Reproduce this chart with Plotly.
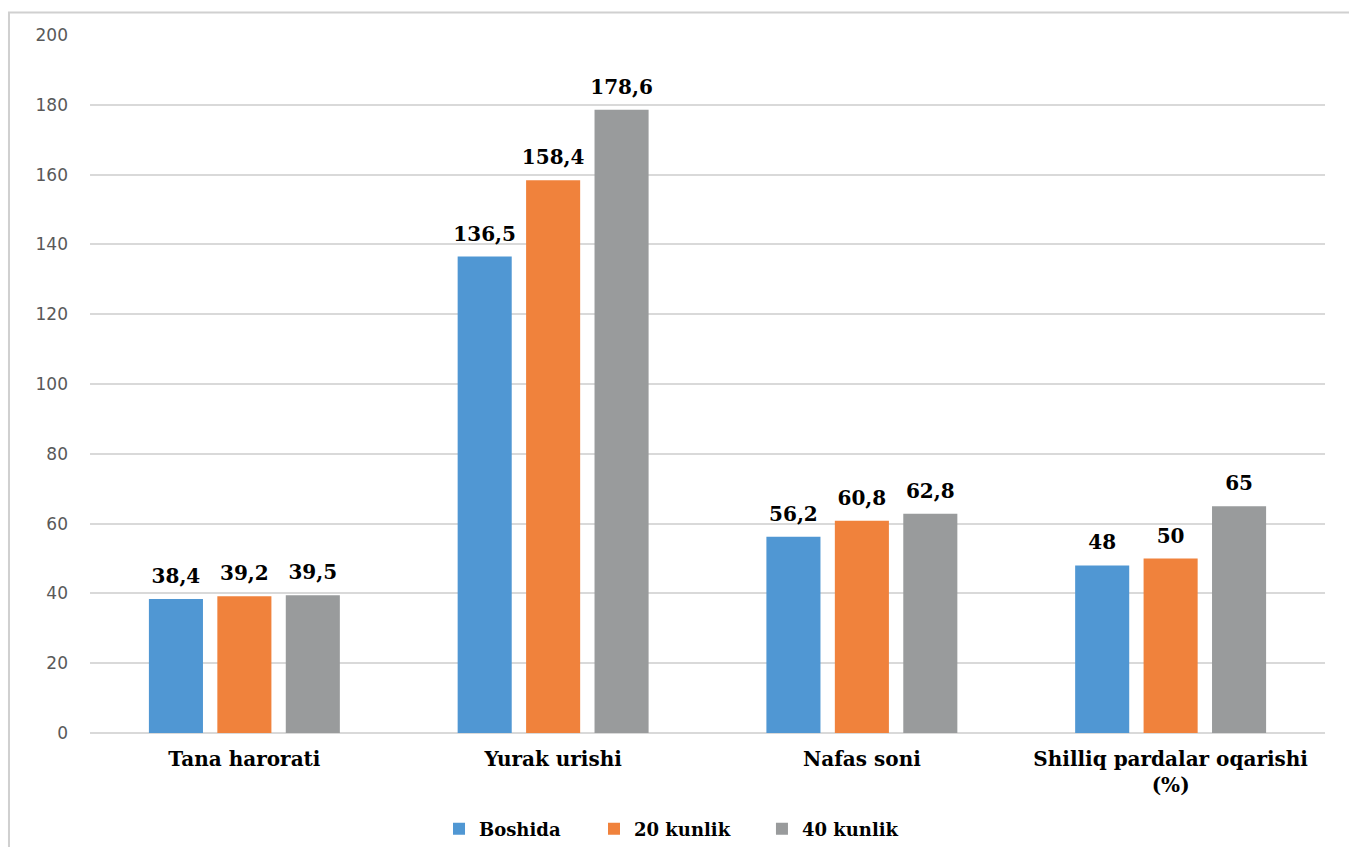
import plotly.graph_objects as go

# Indicator names (x categories) and the three measurement stages
categories = ["Tana harorati", "Yurak urishi", "Nafas soni",
              "Shilliq pardalar oqarishi<br>(%)"]
series_names = ["Boshida", "20 kunlik", "40 kunlik"]

boshida = [38.4, 136.5, 56.2, 48]
kunlik_20 = [39.2, 158.4, 60.8, 50]
kunlik_40 = [39.5, 178.6, 62.8, 65]

y_ticks = [0, 20, 40, 60, 80, 100, 120, 140, 160, 180, 200]

colors = ["#5097D3", "#F0823C", "#999B9C"]
legend_x = [0.2826, 0.4081, 0.5441]

label_font = dict(family="DejaVu Serif", size=20, color="#000000", weight="bold")
legend_font = dict(family="DejaVu Serif", size=18, color="#000000", weight="bold")


def label(v):
    return f"{v:g}".replace(".", ",")


fig = go.Figure()
all_series = [boshida, kunlik_20, kunlik_40]
legend_ids = ["legend", "legend2", "legend3"]

for name, vals, col, lg in zip(series_names, all_series, colors, legend_ids):
    fig.add_trace(go.Bar(
        x=categories, y=vals, name=name,
        marker=dict(color=col, line=dict(width=0)),
        legend=lg, hoverinfo="x+y+name",
    ))

# value labels sit above each bar, grouped the same way as the bars
for name, vals in zip(series_names, all_series):
    fig.add_trace(go.Scatter(
        x=categories, y=vals, mode="markers+text",
        text=[label(v) for v in vals], textposition="top center",
        textfont=label_font,
        marker=dict(size=16, opacity=0),
        showlegend=False, hoverinfo="skip", cliponaxis=False,
    ))

legend_common = dict(orientation="h", yanchor="middle", y=-0.1375,
                     xanchor="left", font=legend_font,
                     bgcolor="rgba(0,0,0,0)", borderwidth=0)

fig.update_layout(
    width=1349, height=847, autosize=False,
    margin=dict(l=90, r=24, t=35, b=114, autoexpand=False),
    paper_bgcolor="white", plot_bgcolor="white",
    barmode="group", bargap=0.335, bargroupgap=0.21,
    scattermode="group", scattergap=0.335,
    legend=dict(x=legend_x[0], **legend_common),
    legend2=dict(x=legend_x[1], **legend_common),
    legend3=dict(x=legend_x[2], **legend_common),
    xaxis=dict(
        tickfont=label_font, showgrid=False, showline=False,
        ticks="", ticklabelstandoff=12, automargin=False,
    ),
    yaxis=dict(
        range=[0, 200], tickvals=y_ticks, ticktext=[str(t) for t in y_ticks],
        showgrid=True, gridcolor="#D9D9D9", gridwidth=1.5,
        zeroline=True, zerolinecolor="#D9D9D9", zerolinewidth=2,
        showline=False, ticks="", automargin=False,
        tickfont=dict(family="DejaVu Sans", size=17, color="#595959"),
        ticklabelstandoff=21,
    ),
    shapes=[dict(
        type="rect", xref="paper", yref="paper",
        x0=-0.0656, x1=1.05, y0=-0.2, y1=1.0322,
        line=dict(color="#D0D0D0", width=2), fillcolor="rgba(0,0,0,0)",
        layer="below",
    )],
    showlegend=True,
)

fig.write_html("out.html")
